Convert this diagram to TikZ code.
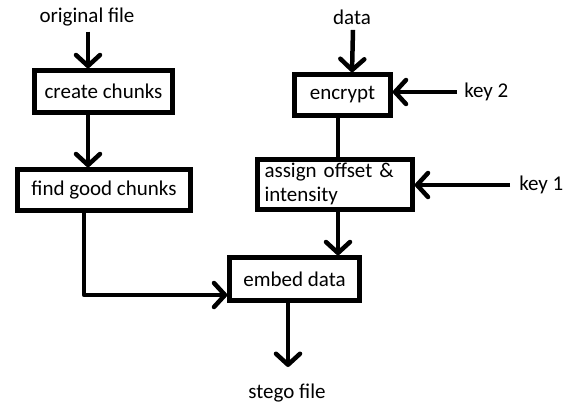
\documentclass[tikz,border=0pt]{standalone}
\usepackage{fontspec}
\setmainfont{Carlito}
\usetikzlibrary{calc, arrows.meta}

\begin{document}
\begin{tikzpicture}[x=1pt, y=-1pt, line width=4.5pt,
  font=\fontsize{21}{24}\selectfont,
  stepbox/.style={draw, inner sep=0pt},
  flow/.style={-{Straight Barb[length=11pt, width=24pt, round]}}]
  \useasboundingbox (0,0) rectangle (571,407);
  % boxes
  \node[stepbox, minimum width=138pt, minimum height=42pt] (create) at (103.5,91.5) {create chunks};
  \node[stepbox, minimum width=173pt, minimum height=41pt] (find) at (104,190) {find good chunks};
  \node[stepbox, minimum width=96pt, minimum height=41pt] (encrypt) at (342.5,95) {encrypt};
  \node[stepbox, minimum height=50pt, text width=141pt, inner xsep=7pt] (assign) at (335,184.5) {\noindent\begin{tabular}{@{}l@{}}assign offset \&\\intensity\end{tabular}};
  \node[stepbox, minimum width=130pt, minimum height=43pt] (embed) at (294.5,279) {embed data};
  % inputs and output
  \node (orig) at (87,17) {original file};
  \node (data) at (352,17) {data};
  \node[anchor=west, inner sep=0pt] (key2) at (462,92) {key 2};
  \node[anchor=west, inner sep=0pt] (key1) at (517,185) {key 1};
  \node (stego) at (287,393) {stego file};
  \coordinate (colL) at (88,0);
  \coordinate (colR) at (338,0);
  \coordinate (turn) at (84,295);
  \coordinate (out) at (288,367);
  % connectors
  \draw[flow] (orig.south -| colL) -- (create.north -| colL);
  \draw[flow] (create.south -| colL) -- (find.north -| colL);
  \draw[flow] (data.south) ++(1,0) -- (data.south |- encrypt.north);
  \draw[flow] (key2.west) ++(-5,0) -- (encrypt.east |- key2);
  \draw (encrypt.south -| colR) -- (assign.north -| colR);
  \draw[flow] (key1.west) ++(-7,0) -- (assign.east |- key1);
  \draw[flow] (assign.south -| colR) -- (embed.north -| colR);
  \draw[flow, line join=round] (find.south -| turn) -- (turn) -- (turn -| embed.west);
  \draw[flow] (embed.south -| out) -- (out);
\end{tikzpicture}
\end{document}
